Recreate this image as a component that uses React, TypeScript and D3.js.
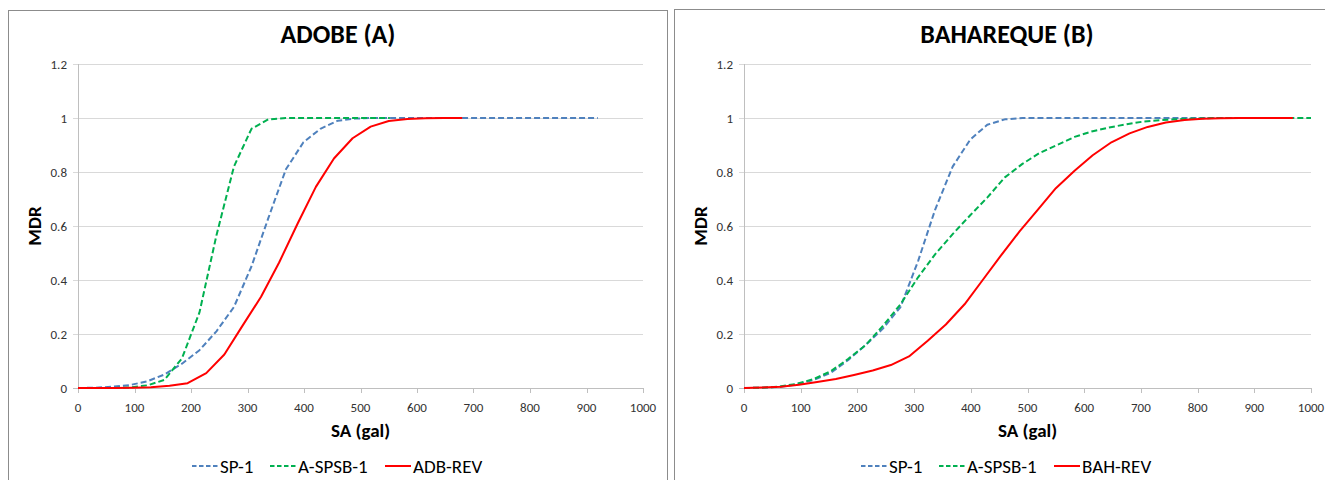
import React from 'react';
import * as d3 from 'd3';

// SA (gal) sample points for each curve family
const saSp = [0, 31, 61, 92, 123, 153, 184, 215, 245, 276, 307, 337, 368, 399, 429, 460, 491, 521, 552, 583, 613, 644, 675, 705, 736, 767, 797, 828, 859, 889, 920];
const saSpsbB = [0, 31, 61, 92, 123, 153, 184, 215, 245, 276, 307, 337, 368, 399, 429, 460, 491, 521, 552, 583, 613, 644, 675, 705, 736, 767, 797, 828, 859, 889, 920, 951, 982, 1000];
const saRev = [0, 32, 65, 97, 129, 162, 194, 227, 259, 291, 324, 356, 389, 421, 453, 486, 518, 550, 583, 615, 648, 680, 712, 744, 777, 809, 841, 874, 906, 938, 968];

// MDR values, ADOBE (A)
const adobeSp1 = [0, 0.001, 0.005, 0.011, 0.025, 0.05, 0.09, 0.14, 0.21, 0.3, 0.45, 0.63, 0.81, 0.91, 0.96, 0.99, 0.998, 1, 1, 1, 1, 1, 1, 1, 1, 1, 1, 1, 1, 1, 1];
const adobeSpsb1 = [0, 0, 0, 0.002, 0.01, 0.03, 0.11, 0.28, 0.565, 0.82, 0.96, 0.995, 1, 1, 1, 1, 1, 1, 1];
const adobeRev = [0, 0, 0, 0.001, 0.003, 0.008, 0.018, 0.055, 0.124, 0.23, 0.338, 0.465, 0.61, 0.745, 0.85, 0.925, 0.968, 0.989, 0.996, 0.999, 1, 1];

// MDR values, BAHAREQUE (B)
const bahSp1 = [0, 0.001, 0.004, 0.013, 0.03, 0.056, 0.104, 0.16, 0.22, 0.3, 0.47, 0.66, 0.82, 0.92, 0.975, 0.995, 1, 1, 1, 1, 1, 1, 1, 1, 1, 1, 1, 1, 1, 1, 1];
const bahSpsb1 = [0, 0.001, 0.005, 0.015, 0.033, 0.062, 0.108, 0.16, 0.23, 0.31, 0.41, 0.495, 0.57, 0.64, 0.705, 0.78, 0.83, 0.87, 0.9, 0.93, 0.95, 0.965, 0.977, 0.987, 0.992, 0.996, 0.998, 1, 1, 1, 1, 1, 1, 1];
const bahRev = [0, 0.002, 0.005, 0.012, 0.022, 0.033, 0.048, 0.065, 0.085, 0.117, 0.175, 0.235, 0.31, 0.4, 0.49, 0.58, 0.66, 0.74, 0.805, 0.862, 0.91, 0.943, 0.967, 0.983, 0.993, 0.997, 0.999, 1, 1, 1, 1];

const xTicks = [0, 100, 200, 300, 400, 500, 600, 700, 800, 900, 1000];
const yTicks = [0, 0.2, 0.4, 0.6, 0.8, 1, 1.2];

const FONT = 'Calibri, Carlito, Lato, sans-serif';
const BLUE = '#4F81BD';
const GREEN = '#00B050';
const RED = '#FF0000';

type Series = { name: string; xs: number[]; ys: number[]; color: string; dash?: string };

function Panel({ frameX, frameW, frameY, plotL, plotR, title, series }:
  { frameX: number; frameW: number; frameY: number; plotL: number; plotR: number; title: string; series: Series[] }) {
  const top = 64, bottom = 388;
  const x = d3.scaleLinear().domain([0, 1000]).range([plotL, plotR]);
  const y = d3.scaleLinear().domain([0, 1.2]).range([bottom, top]);
  const line = d3.line<[number, number]>().x(d => x(d[0])).y(d => y(d[1]));
  const cx = frameX + frameW / 2;
  const legendStart = cx - 146;
  const itemOffsets = [0, 78, 193];

  return (
    <g>
      <rect x={frameX} y={frameY} width={frameW} height={500} fill="#fff" stroke="#8c8c8c" strokeWidth={1} />
      <text x={cx} y={43} textAnchor="middle" fontFamily={FONT} fontWeight="bold" fontSize={26} fill="#000">{title}</text>
      {yTicks.map(t => (
        <g key={'y' + t}>
          <line x1={plotL - 5} x2={plotR} y1={Math.round(y(t)) + 0.5} y2={Math.round(y(t)) + 0.5} stroke={t === 0 ? '#bfbfbf' : '#d9d9d9'} strokeWidth={1} />
          <text x={plotL - 11} y={y(t) + 4.5} textAnchor="end" fontFamily={FONT} fontSize={13} fill="#333">{t}</text>
        </g>
      ))}
      <line x1={plotL + 0.5} x2={plotL + 0.5} y1={top} y2={bottom + 0.5} stroke="#bfbfbf" strokeWidth={1} />
      {xTicks.map(t => (
        <g key={'x' + t}>
          <line x1={Math.round(x(t)) + 0.5} x2={Math.round(x(t)) + 0.5} y1={bottom} y2={bottom + 5} stroke="#bfbfbf" strokeWidth={1} />
          <text x={x(t)} y={412} textAnchor="middle" fontFamily={FONT} fontSize={13} fill="#333">{t}</text>
        </g>
      ))}
      <text x={(plotL + plotR) / 2} y={437} textAnchor="middle" fontFamily={FONT} fontWeight="bold" fontSize={19} fill="#000">SA (gal)</text>
      <text transform={`translate(${plotL - 37},${(top + bottom) / 2}) rotate(-90)`} textAnchor="middle" fontFamily={FONT} fontWeight="bold" fontSize={19} fill="#000">MDR</text>
      {series.map(s => (
        <path key={s.name} d={line(s.ys.map((v, i) => [s.xs[i], v] as [number, number])) || ''} fill="none"
          stroke={s.color} strokeWidth={2} strokeDasharray={s.dash} strokeLinejoin="round" />
      ))}
      {series.map((s, i) => {
        const lx = legendStart + itemOffsets[i];
        return (
          <g key={'lg' + s.name}>
            <line x1={lx} x2={lx + 26} y1={466} y2={466} stroke={s.color} strokeWidth={2} strokeDasharray={s.dash ? '4.5,2.5' : undefined} />
            <text x={lx + 28} y={472.5} fontFamily={FONT} fontSize={19} fill="#000">{s.name}</text>
          </g>
        );
      })}
    </g>
  );
}

export default function App() {
  const adobe: Series[] = [
    { name: 'SP-1', xs: saSp, ys: adobeSp1, color: BLUE, dash: '6,3' },
    { name: 'A-SPSB-1', xs: saSp, ys: adobeSpsb1, color: GREEN, dash: '6,3' },
    { name: 'ADB-REV', xs: saRev, ys: adobeRev, color: RED },
  ];
  const bah: Series[] = [
    { name: 'SP-1', xs: saSp, ys: bahSp1, color: BLUE, dash: '6,3' },
    { name: 'A-SPSB-1', xs: saSpsbB, ys: bahSpsb1, color: GREEN, dash: '6,3' },
    { name: 'BAH-REV', xs: saRev, ys: bahRev, color: RED },
  ];
  return (
    <div style={{ position: 'fixed', left: 0, top: 0 }}>
      <svg width={1325} height={480} style={{ display: 'block', background: '#fff' }}>
        <Panel frameX={8.5} frameW={659} frameY={10.5} plotL={78} plotR={643} title="ADOBE (A)" series={adobe} />
        <Panel frameX={674.5} frameW={665} frameY={9.5} plotL={744} plotR={1311} title="BAHAREQUE (B)" series={bah} />
      </svg>
    </div>
  );
}
